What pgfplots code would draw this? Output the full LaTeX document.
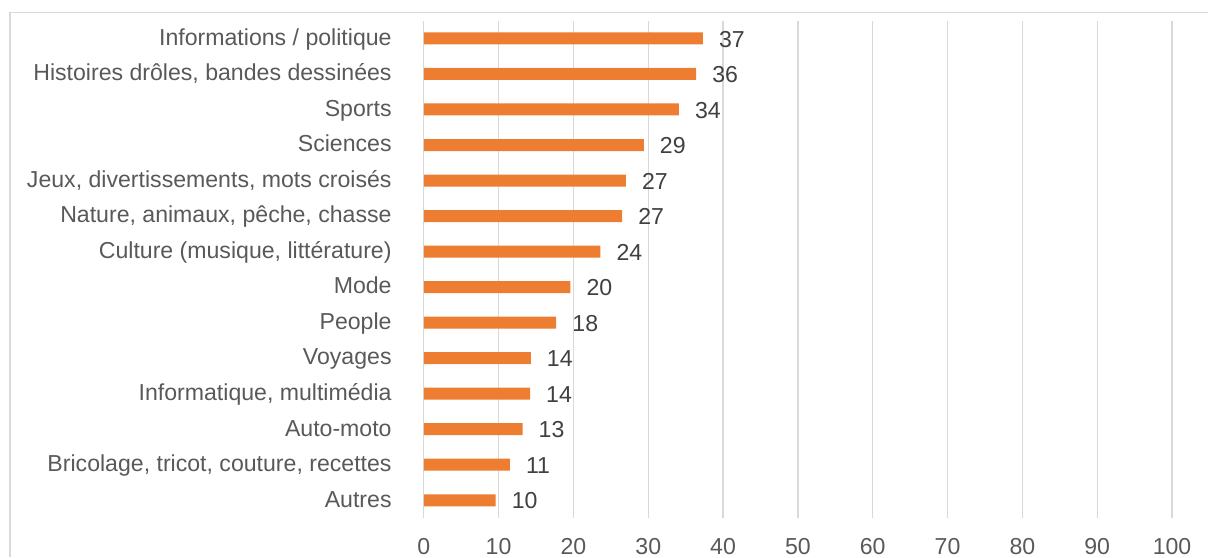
\documentclass[border=0pt]{standalone}
\usepackage{fontspec}
\setmainfont{Liberation Sans}
\usepackage{pgfplots}
\pgfplotsset{compat=1.18}
\definecolor{barorange}{HTML}{ED7D31}
\definecolor{labgray}{HTML}{595959}
\definecolor{valgray}{HTML}{404040}
\definecolor{gridgray}{HTML}{D9D9D9}
\begin{document}
\begin{tikzpicture}
\begin{axis}[
  at={(0,0)}, anchor=south west,
  scale only axis,
  width=748.7bp, height=497.6bp,
  xbar, bar width=12bp,
  xmin=0, xmax=100,
  ymin=-0.5, ymax=13.5,
  xtick={0,10,...,100},
  ytick=data,
  yticklabels={Autres,{Bricolage, tricot, couture, recettes},Auto-moto,{Informatique, multimédia},Voyages,People,Mode,{Culture (musique, littérature)},{Nature, animaux, pêche, chasse},{Jeux, divertissements, mots croisés},Sciences,Sports,{Histoires drôles, bandes dessinées},Informations / politique},
  major tick length=0pt,
  axis line style={draw=none},
  xmajorgrids, grid style={gridgray, line width=1.3bp},
  font=\fontsize{23.2}{27}\selectfont,
  /pgf/number format/assume math mode=true,
  xticklabel style={labgray, anchor=north, inner sep=0pt, yshift=-20bp},
  yticklabel style={labgray, anchor=base east, inner sep=0pt, xshift=-32bp, yshift=-6.8bp},
  nodes near coords,
  point meta=explicit symbolic,
  nodes near coords style={valgray, anchor=base west, inner sep=0pt, xshift=16bp, yshift=-8.6bp},
]
\addplot[fill=barorange, draw=none] table[meta=lab] {
x y lab
9.6 0 10
11.5 1 11
13.2 2 13
14.2 3 14
14.3 4 14
17.7 5 18
19.6 6 20
23.6 7 24
26.5 8 27
27.0 9 27
29.4 10 29
34.1 11 34
36.4 12 36
37.3 13 37
};
\end{axis}
\draw[gridgray, line width=1.3bp] (-414bp,-38.7bp) -- (-414bp,505.6bp) -- (785bp,505.6bp);
\path[use as bounding box] (-424bp,-38.7bp) rectangle (785bp,518.3bp);
\end{tikzpicture}
\end{document}
